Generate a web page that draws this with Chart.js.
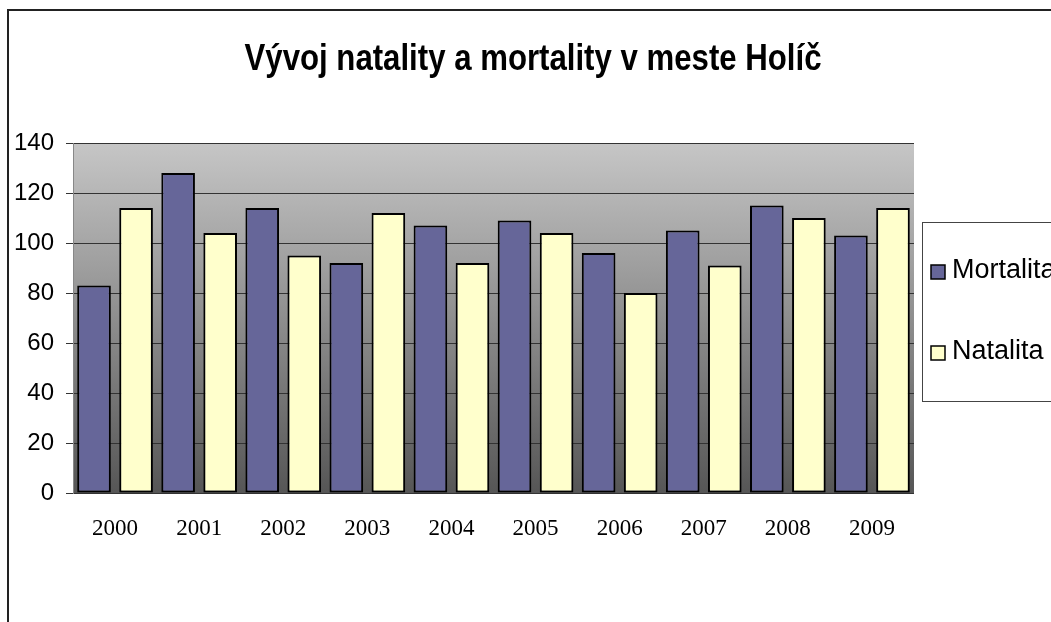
<!DOCTYPE html>
<html>
<head>
    <title>Vývoj natality a mortality v meste Holíč</title>
    <script src="https://cdn.jsdelivr.net/npm/chart.js"></script>
    <style>
        body { margin: 0; background: #fff; }
        #wrap { width: 1051px; height: 622px; position: relative; }
    </style>
</head>
<body>
    <div id="wrap"><canvas id="natalityChart"></canvas></div>
    <script>
        const chartTitle = 'Vývoj natality a mortality v meste Holíč';
        const years = ['2000', '2001', '2002', '2003', '2004', '2005', '2006', '2007', '2008', '2009'];
        const mortalita = [83, 128, 114, 92, 107, 109, 96, 105, 115, 103];
        const natalita = [114, 104, 95, 112, 92, 104, 80, 91, 110, 114];
        const yTicks = { min: 0, max: 140, step: 20 };

        // gray gradient behind the bars, like the old Excel plot area
        const plotBackground = {
            id: 'plotBackground',
            beforeDraw(chart) {
                const { ctx, chartArea: a } = chart;
                const g = ctx.createLinearGradient(0, a.top, 0, a.bottom);
                g.addColorStop(0, '#c6c6c6');
                g.addColorStop(1, '#565656');
                ctx.save();
                ctx.fillStyle = g;
                ctx.fillRect(a.left, a.top, a.right - a.left, a.bottom - a.top);
                ctx.restore();
            }
        };

        // frame, title and the boxed legend on the right
        const decorations = {
            id: 'decorations',
            afterDraw(chart) {
                const ctx = chart.ctx;
                ctx.save();
                ctx.strokeStyle = '#222';
                ctx.lineWidth = 2;
                ctx.beginPath();
                ctx.moveTo(8, 622);
                ctx.lineTo(8, 10);
                ctx.lineTo(1051, 10);
                ctx.stroke();

                ctx.fillStyle = '#000';
                ctx.font = 'bold 37px "Liberation Sans", Arial, sans-serif';
                ctx.textBaseline = 'alphabetic';
                const w = ctx.measureText(chartTitle).width;
                ctx.translate(533, 70);
                ctx.scale(577 / w, 1);
                ctx.textAlign = 'center';
                ctx.fillText(chartTitle, 0, 0);
                ctx.restore();

                ctx.save();
                ctx.strokeStyle = '#444';
                ctx.lineWidth = 1;
                ctx.strokeRect(922.5, 222.5, 140, 179);
                ctx.font = '27px "Liberation Sans", Arial, sans-serif';
                ctx.textBaseline = 'middle';
                const rows = [271, 352];
                chart.data.datasets.forEach((ds, i) => {
                    const y = rows[i];
                    ctx.fillStyle = ds.backgroundColor;
                    ctx.fillRect(931, y - 6, 14, 14);
                    ctx.strokeStyle = '#000';
                    ctx.lineWidth = 1.5;
                    ctx.strokeRect(931, y - 6, 14, 14);
                    ctx.fillStyle = '#000';
                    ctx.fillText(ds.label, 952, y);
                });
                ctx.restore();
            }
        };

        const ctx = document.getElementById('natalityChart').getContext('2d');
        new Chart(ctx, {
            type: 'bar',
            data: {
                labels: years,
                datasets: [{
                    label: 'Mortalita',
                    data: mortalita,
                    backgroundColor: '#666699',
                    borderColor: '#000',
                    borderWidth: 2,
                    borderSkipped: false
                }, {
                    label: 'Natalita',
                    data: natalita,
                    backgroundColor: '#ffffcc',
                    borderColor: '#000',
                    borderWidth: 2,
                    borderSkipped: false
                }]
            },
            options: {
                responsive: true,
                maintainAspectRatio: false,
                animation: false,
                categoryPercentage: 1.0,
                barPercentage: 0.8,
                layout: { padding: { left: 0, right: 137, top: 143, bottom: 0 } },
                plugins: {
                    legend: { display: false },
                    title: { display: false },
                    tooltip: { enabled: false }
                },
                scales: {
                    x: {
                        grid: { display: false },
                        border: { display: false },
                        ticks: {
                            color: '#000',
                            padding: 14,
                            maxRotation: 0,
                            font: { family: '"Liberation Serif", "Times New Roman", serif', size: 23 }
                        },
                        afterFit(scale) { scale.height = 129; }
                    },
                    y: {
                        min: yTicks.min,
                        max: yTicks.max,
                        grid: { color: '#333', lineWidth: 1, tickLength: 7 },
                        border: { color: '#888' },
                        ticks: {
                            stepSize: yTicks.step,
                            color: '#000',
                            padding: 12,
                            font: { family: '"Liberation Sans", Arial, sans-serif', size: 24 }
                        },
                        afterFit(scale) { scale.width = 73; }
                    }
                }
            },
            plugins: [plotBackground, decorations]
        });
    </script>
</body>
</html>
